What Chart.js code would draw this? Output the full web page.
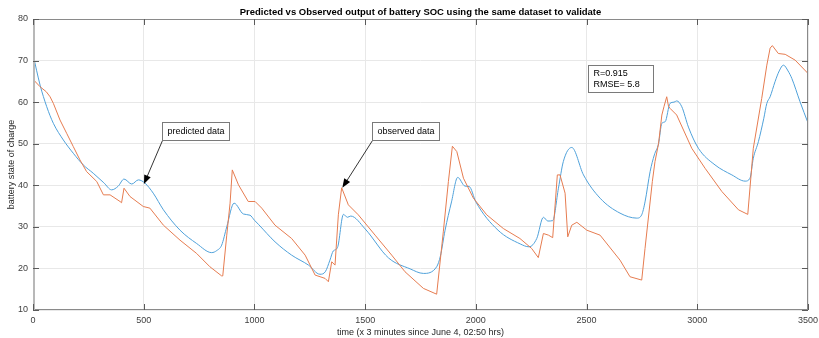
<!DOCTYPE html>
<html>
<head>
<meta charset="utf-8">
<script src="https://cdn.jsdelivr.net/npm/chart.js@4.4.0/dist/chart.umd.min.js"></script>
<style>
    body { margin: 0; background: #ffffff; }
    #wrap { width: 819px; height: 338px; }
</style>
</head>
<body>
<div id="wrap"><canvas id="socChart" width="819" height="338"></canvas></div>
<script>
// Values (time in steps of 3 minutes, SOC in %)
var predictedTime = [0, 32, 62, 92, 137, 182, 227, 272, 320, 355, 385, 411, 446, 476, 506, 543, 589, 664, 739, 807,
    830, 852, 875, 908, 950, 980, 1000, 1020, 1093, 1168, 1244, 1296, 1320, 1341, 1356, 1375, 1402, 1420, 1435, 1500,
    1606, 1703, 1763, 1823, 1840, 1861, 1890, 1918, 1951, 1970, 2000, 2100, 2200, 2240, 2275, 2305, 2325, 2347, 2373, 2395,
    2433, 2486, 2561, 2651, 2727, 2749, 2764, 2787, 2806, 2825, 2840, 2855, 2877, 2895, 2907, 2930, 2960, 3005, 3080, 3156,
    3216, 3238, 3253, 3276, 3300, 3314, 3329, 3351, 3370, 3389, 3410, 3427, 3464, 3500];
var predictedSoc = [71.5, 64.1, 58.9, 54.9, 50.9, 47.7, 44.9, 42.9, 40.6, 38.9, 39.8, 41.5, 40.3, 41.3, 40.5, 38.1, 34.1, 29.2, 26, 23.8,
    24.3, 25.6, 30, 35.7, 33.1, 32.8, 31.6, 30.5, 26.4, 23.2, 20.8, 18.6, 19.2, 22, 24.2, 25, 33, 32.3, 32.6, 29.5,
    22.5, 19.9, 18.8, 20.4, 23, 29.2, 36, 41.9, 39.8, 39.7, 36, 29.2, 25.9, 25.2, 27.2, 32.3, 31.4, 31.5, 39.3, 45.7,
    49.1, 42.5, 36.9, 33.3, 32.1, 32.9, 36, 43.3, 47.3, 50, 54.9, 55.3, 59.7, 60, 60.3, 58.9, 54, 48.9, 44.9, 42.5,
    41, 41.7, 46.5, 50.5, 56, 59.7, 61.3, 64.9, 67.5, 68.9, 67.5, 65.7, 60.1, 55];

var observedTime = [0, 32, 60, 77, 92, 122, 152, 182, 212, 242, 288, 318, 348, 393, 400, 411, 438, 498, 528, 589,
    664, 739, 799, 852, 857, 875, 890, 900, 928, 972, 1003, 1033, 1093, 1168, 1229, 1274, 1319, 1334, 1349, 1364,
    1379, 1394, 1424, 1469, 1545, 1620, 1680, 1763, 1823, 1853, 1876, 1894, 1914, 1944, 1989, 2049, 2124, 2199, 2252, 2282,
    2305, 2328, 2347, 2368, 2380, 2403, 2415, 2433, 2456, 2501, 2561, 2651, 2696, 2749, 2764, 2797, 2809, 2825, 2840, 2850,
    2862, 2870, 2877, 2907, 2975, 3035, 3111, 3186, 3228, 3253, 3291, 3314, 3329, 3339, 3366, 3397, 3442, 3500];
var observedSoc = [65.5, 63.7, 62.5, 61.3, 59.7, 55.7, 52.5, 49.3, 46.1, 43.3, 40.9, 37.7, 37.7, 36.1, 35.8, 39.3, 37.3, 34.9, 34.5, 30.4,
    26.8, 23.6, 20.4, 18.2, 18.2, 28, 35.7, 43.7, 40.1, 36.1, 36.1, 34.5, 30.4, 27.2, 23.2, 18.4, 17.6, 16.8, 21.6, 20.8,
    32.9, 39.4, 35.3, 32.9, 28, 23.2, 19.2, 15.2, 13.8, 28.8, 40.9, 49.4, 48.1, 41.7, 36.9, 32.9, 29.6, 27.2, 24.8, 22.6,
    28.4, 28, 27.4, 42.5, 42.5, 38.1, 27.6, 30.4, 31.1, 29.2, 28, 22, 18, 17.2, 24.8, 40.9, 45.7, 50, 56.9, 59,
    61.3, 59, 58.5, 56.9, 48.9, 44.1, 38.5, 34.1, 33, 48.9, 60.9, 68.9, 73, 73.6, 71.7, 71.5, 70.1, 66.9];

var xTicks = [0, 500, 1000, 1500, 2000, 2500, 3000, 3500];
var yTicks = [10, 20, 30, 40, 50, 60, 70, 80];

// Text boxes with arrows: box top-left corner and arrow tip in data units
var noteTexts = ['predicted data', 'observed data'];
var noteBoxAt = [[583, 55.2], [1531, 55.2]];
var noteArrowTip = [[501, 40.3], [1397, 39.4]];
var statsLines = ['R=0.915', 'RMSE= 5.8'];
var statsBoxAt = [2507, 68.9];

var chartTitle = 'Predicted vs Observed output of battery SOC using the same dataset to validate';
var fontName = '"Liberation Sans", Arial, sans-serif';

// Turn two plain arrays into x/y points for the linear scale
function toPoints(xs, ys) {
    return xs.map(function (x, i) {
        return { x: x, y: ys[i] };
    });
}

// Draw a line ending in a filled arrow head at (tx, ty)
function drawArrow(ctx, fx, fy, tx, ty) {
    var angle = Math.atan2(ty - fy, tx - fx);
    ctx.strokeStyle = '#000000';
    ctx.fillStyle = '#000000';
    ctx.lineWidth = 0.8;
    ctx.beginPath();
    ctx.moveTo(fx, fy);
    ctx.lineTo(tx - 6 * Math.cos(angle), ty - 6 * Math.sin(angle));
    ctx.stroke();
    ctx.beginPath();
    ctx.moveTo(tx, ty);
    ctx.lineTo(tx - 9 * Math.cos(angle) + 3.5 * Math.sin(angle), ty - 9 * Math.sin(angle) - 3.5 * Math.cos(angle));
    ctx.lineTo(tx - 9 * Math.cos(angle) - 3.5 * Math.sin(angle), ty - 9 * Math.sin(angle) + 3.5 * Math.cos(angle));
    ctx.closePath();
    ctx.fill();
}

// Plugin for the MATLAB look: box with inward ticks, title and annotations
var matlabFrame = {
    id: 'matlabFrame',
    afterDraw: function (chart) {
        var ctx = chart.ctx;
        var area = chart.chartArea;
        var xs = chart.scales.x;
        var ys = chart.scales.y;
        ctx.save();

        // Axis box, the left side drawn as a wider pale bar like the original
        ctx.strokeStyle = '#8a8a8a';
        ctx.lineWidth = 1;
        ctx.strokeRect(area.left + 0.5, area.top + 0.5, area.right - area.left - 1, area.bottom - area.top - 1);
        ctx.strokeStyle = '#b8b8b8';
        ctx.lineWidth = 2;
        ctx.beginPath();
        ctx.moveTo(area.left + 1, area.top);
        ctx.lineTo(area.left + 1, area.bottom);
        ctx.stroke();

        // Inward ticks on all four sides
        ctx.strokeStyle = '#5a5a5a';
        ctx.lineWidth = 1;
        ctx.beginPath();
        xTicks.forEach(function (t) {
            var px = Math.round(xs.getPixelForValue(t)) + 0.5;
            ctx.moveTo(px, area.bottom);
            ctx.lineTo(px, area.bottom - 6);
            ctx.moveTo(px, area.top);
            ctx.lineTo(px, area.top + 6);
        });
        yTicks.forEach(function (v) {
            var py = Math.round(ys.getPixelForValue(v)) + 0.5;
            ctx.moveTo(area.left, py);
            ctx.lineTo(area.left + 6, py);
            ctx.moveTo(area.right, py);
            ctx.lineTo(area.right - 6, py);
        });
        ctx.stroke();

        // Title
        ctx.fillStyle = '#000000';
        ctx.font = 'bold 9.5px ' + fontName;
        ctx.textAlign = 'center';
        ctx.textBaseline = 'middle';
        ctx.fillText(chartTitle, (area.left + area.right) / 2, area.top - 7);

        // Labelled arrows
        ctx.font = '9px ' + fontName;
        ctx.textAlign = 'left';
        noteTexts.forEach(function (text, i) {
            var bx = Math.round(xs.getPixelForValue(noteBoxAt[i][0])) + 0.5;
            var by = Math.round(ys.getPixelForValue(noteBoxAt[i][1])) + 0.5;
            var bw = Math.round(ctx.measureText(text).width) + 10;
            var bh = 18;
            drawArrow(ctx, bx, by + bh, xs.getPixelForValue(noteArrowTip[i][0]), ys.getPixelForValue(noteArrowTip[i][1]));
            ctx.fillStyle = '#ffffff';
            ctx.fillRect(bx, by, bw, bh);
            ctx.strokeStyle = '#7a7a7a';
            ctx.lineWidth = 1;
            ctx.strokeRect(bx, by, bw, bh);
            ctx.fillStyle = '#000000';
            ctx.fillText(text, bx + 5, by + bh / 2);
        });

        // Statistics box
        var sx = Math.round(xs.getPixelForValue(statsBoxAt[0])) + 0.5;
        var sy = Math.round(ys.getPixelForValue(statsBoxAt[1])) + 0.5;
        ctx.fillStyle = '#ffffff';
        ctx.fillRect(sx, sy, 65, 27);
        ctx.strokeStyle = '#7a7a7a';
        ctx.strokeRect(sx, sy, 65, 27);
        ctx.fillStyle = '#000000';
        statsLines.forEach(function (line, i) {
            ctx.fillText(line, sx + 5, sy + 8 + i * 11.5);
        });

        ctx.restore();
    }
};

// Plain tick text, no thousands separator
function plainTick(value) {
    return String(value);
}

function generateGraph() {
    var ctx = document.getElementById('socChart');
    new Chart(ctx, {
        type: 'line',
        data: {
            datasets: [{
                label: 'observed',
                data: toPoints(observedTime, observedSoc),
                borderColor: '#e67c50',
                borderWidth: 1,
                pointRadius: 0,
                tension: 0,
                fill: false
            }, {
                label: 'predicted',
                data: toPoints(predictedTime, predictedSoc),
                borderColor: '#4fa1da',
                borderWidth: 1,
                pointRadius: 0,
                cubicInterpolationMode: 'monotone',
                fill: false
            }]
        },
        options: {
            responsive: false,
            animation: false,
            layout: { padding: { top: 19, right: 11, left: 0, bottom: 0 } },
            plugins: {
                legend: { display: false },
                tooltip: { enabled: false },
                title: { display: false }
            },
            scales: {
                x: {
                    type: 'linear',
                    min: 0,
                    max: 3500,
                    afterFit: function (scale) {
                        // fixed height, and no extra room reserved for the last tick label
                        scale.height = 28;
                        scale.paddingLeft = 0;
                        scale.paddingRight = 0;
                    },
                    afterBuildTicks: function (scale) {
                        scale.ticks = xTicks.map(function (v) { return { value: v }; });
                    },
                    ticks: { color: '#404040', font: { family: fontName, size: 9 }, padding: 5, maxRotation: 0, callback: plainTick },
                    grid: { color: '#e8e8e8', drawTicks: false },
                    border: { display: false },
                    title: {
                        display: true,
                        text: 'time (x 3 minutes since June 4, 02:50 hrs)',
                        color: '#262626',
                        font: { family: fontName, size: 9 },
                        padding: 0
                    }
                },
                y: {
                    min: 10,
                    max: 80,
                    afterFit: function (scale) {
                        scale.width = 33;
                        scale.paddingTop = 0;
                        scale.paddingBottom = 0;
                    },
                    afterBuildTicks: function (scale) {
                        scale.ticks = yTicks.map(function (v) { return { value: v }; });
                    },
                    ticks: { color: '#404040', font: { family: fontName, size: 9 }, padding: 5, callback: plainTick },
                    grid: { color: '#e8e8e8', drawTicks: false },
                    border: { display: false },
                    title: {
                        display: true,
                        text: 'battery state of charge',
                        color: '#262626',
                        font: { family: fontName, size: 9 },
                        padding: { top: 6, bottom: 0 }
                    }
                }
            }
        },
        plugins: [matlabFrame]
    });
}

generateGraph();
</script>
</body>
</html>
